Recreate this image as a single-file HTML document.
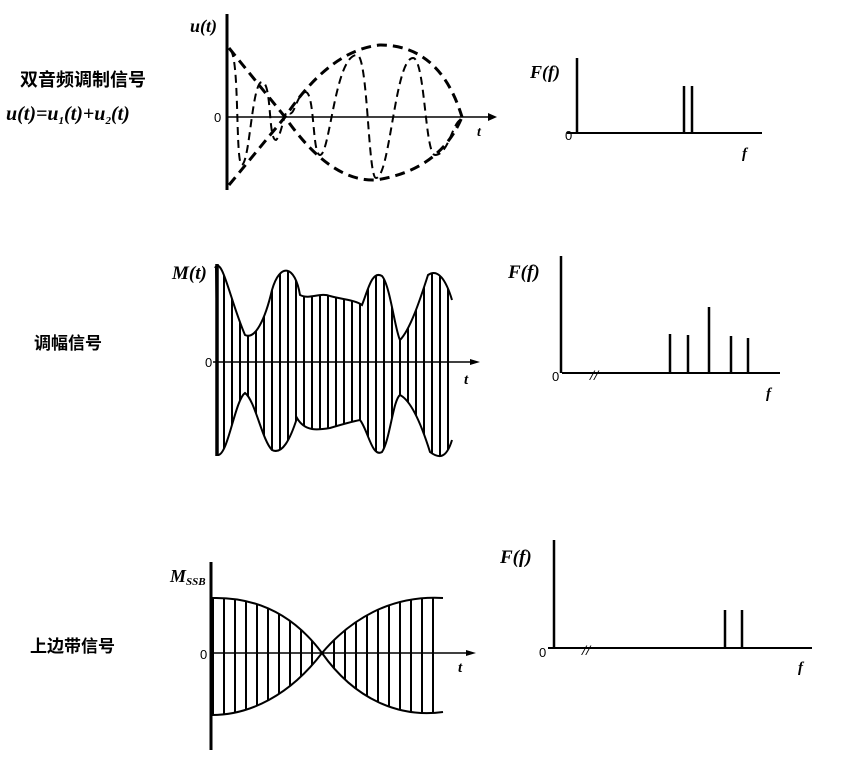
<!DOCTYPE html>
<html><head><meta charset="utf-8"><style>
html,body{margin:0;padding:0;background:#fff;}
svg{display:block;}
.cjk{font-family:"Liberation Sans","Noto Sans CJK SC",sans-serif;font-weight:bold;}
.it{font-family:"Liberation Serif",serif;font-style:italic;font-weight:bold;}
</style></head><body>
<svg width="866" height="766" viewBox="0 0 866 766" xmlns="http://www.w3.org/2000/svg">
<defs>
<pattern id="v2" x="215" y="0" width="8" height="766" patternUnits="userSpaceOnUse">
<rect x="0" y="0" width="2" height="766" fill="#000"/></pattern>
<pattern id="v3" x="212" y="0" width="11" height="766" patternUnits="userSpaceOnUse">
<rect x="0" y="0" width="2" height="766" fill="#000"/></pattern>
<clipPath id="c2"><path d="M215,268 C222,255 230,300 245,335 C255,340 265,320 272,290 C280,262 295,265 300,295 C310,300 320,292 330,296 C345,300 355,300 362,305 C368,290 372,270 382,276 C390,285 395,330 400,340 C410,330 420,300 428,275 C438,268 446,280 452,300 L452,440 C446,460 438,458 430,452 C420,420 410,400 400,395 C393,400 390,440 382,452 C372,458 368,430 360,420 C350,422 340,425 330,428 C318,430 305,432 297,418 C290,440 282,455 272,450 C262,440 255,400 245,393 C235,400 228,455 218,455 Z"/></clipPath>
<clipPath id="c3"><path d="M212,598 C250,597 290,610 322,653 C350,620 390,595 443,598 L443,712 C400,718 355,700 322,653 C290,695 250,715 212,715 Z"/></clipPath>
</defs>

<!-- left labels -->
<text x="20" y="86" class="cjk" font-size="18">双音频调制信号</text>
<text x="6" y="120" class="it" font-size="20">u(t)=u<tspan font-size="11" dy="4">1</tspan><tspan dy="-4">(t)+u</tspan><tspan font-size="11" dy="4">2</tspan><tspan dy="-4">(t)</tspan></text>
<text x="34" y="349" class="cjk" font-size="17">调幅信号</text>
<text x="30" y="652" class="cjk" font-size="17">上边带信号</text>

<!-- Panel 1 -->
<g stroke="#000" fill="none">
<line x1="227" y1="14" x2="227" y2="190" stroke-width="3"/>
<line x1="227" y1="117" x2="488" y2="117" stroke-width="1.5"/>
<g stroke-width="3" stroke-dasharray="10,6">
<path d="M229,48 L285,117 Q330,182 376,180 Q440,170 462,117"/>
<path d="M229,185 L285,117 Q330,50 380,45 Q440,45 462,117"/>
</g>
<g stroke-width="2" stroke-dasharray="8,5">
<path d="M230,50 C240,55 235,165 242,165 C250,160 252,82 262,82 C272,82 268,140 276,140 C282,135 284,110 288,112 C294,120 296,95 305,92 C315,90 312,155 320,155 C330,155 335,55 357,55 C368,55 368,178 376,178 C390,178 395,58 413,58 C425,58 425,155 435,155 C448,155 452,125 460,120"/>
</g>
</g>
<polygon points="488,113 497,117 488,121" fill="#000"/>
<text x="190" y="32" class="it" font-size="18">u(t)</text>
<text x="214" y="122" font-family="Liberation Sans" font-size="13">0</text>
<text x="477" y="136" class="it" font-size="14">t</text>

<!-- Spectrum 1 -->
<g stroke="#000">
<line x1="577" y1="58" x2="577" y2="133" stroke-width="2.5"/>
<line x1="567" y1="133" x2="762" y2="133" stroke-width="2"/>
<line x1="684" y1="86" x2="684" y2="133" stroke-width="2.5"/>
<line x1="692" y1="86" x2="692" y2="133" stroke-width="2.5"/>
</g>
<text x="530" y="78" class="it" font-size="18" font-weight="normal">F(f)</text>
<text x="565" y="140" font-family="Liberation Sans" font-size="13">0</text>
<text x="742" y="158" class="it" font-size="15">f</text>

<!-- Panel 2 -->
<rect x="213" y="250" width="245" height="215" fill="url(#v2)" clip-path="url(#c2)"/>
<path d="M215,268 C222,255 230,300 245,335 C255,340 265,320 272,290 C280,262 295,265 300,295 C310,300 320,292 330,296 C345,300 355,300 362,305 C368,290 372,270 382,276 C390,285 395,330 400,340 C410,330 420,300 428,275 C438,268 446,280 452,300 M452,440 C446,460 438,458 430,452 C420,420 410,400 400,395 C393,400 390,440 382,452 C372,458 368,430 360,420 C350,422 340,425 330,428 C318,430 305,432 297,418 C290,440 282,455 272,450 C262,440 255,400 245,393 C235,400 228,455 218,455" stroke="#000" stroke-width="2" fill="none"/>
<g stroke="#000">
<line x1="217" y1="264" x2="217" y2="456" stroke-width="3.5"/>
<line x1="213" y1="362" x2="472" y2="362" stroke-width="1.5"/>
</g>
<polygon points="470,359 480,362 470,365" fill="#000"/>
<text x="172" y="279" class="it" font-size="19" font-weight="normal">M(t)</text>
<text x="205" y="367" font-family="Liberation Sans" font-size="13">0</text>
<text x="464" y="384" class="it" font-size="15">t</text>

<!-- Spectrum 2 -->
<g stroke="#000">
<line x1="561" y1="256" x2="561" y2="373" stroke-width="2.5"/>
<line x1="562" y1="373" x2="780" y2="373" stroke-width="2"/>
<line x1="670" y1="334" x2="670" y2="373" stroke-width="2.5"/>
<line x1="688" y1="335" x2="688" y2="373" stroke-width="2.5"/>
<line x1="709" y1="307" x2="709" y2="373" stroke-width="2.5"/>
<line x1="731" y1="336" x2="731" y2="373" stroke-width="2.5"/>
<line x1="748" y1="338" x2="748" y2="373" stroke-width="2.5"/>
</g>
<text x="590" y="380" class="it" font-size="15">//</text>
<text x="508" y="278" class="it" font-size="19" font-weight="normal">F(f)</text>
<text x="552" y="381" font-family="Liberation Sans" font-size="13">0</text>
<text x="766" y="398" class="it" font-size="15">f</text>

<!-- Panel 3 -->
<rect x="210" y="590" width="240" height="130" fill="url(#v3)" clip-path="url(#c3)"/>
<path d="M212,598 C250,597 290,610 322,653 C350,620 390,595 443,598 M443,712 C400,718 355,700 322,653 C290,695 250,715 212,715" stroke="#000" stroke-width="2" fill="none"/>
<g stroke="#000">
<line x1="211" y1="562" x2="211" y2="750" stroke-width="3"/>
<line x1="210" y1="653" x2="470" y2="653" stroke-width="1.5"/>
</g>
<polygon points="466,650 476,653 466,656" fill="#000"/>
<text x="170" y="582" class="it" font-size="18" font-weight="normal">M<tspan font-size="11" dy="3">SSB</tspan></text>
<text x="200" y="659" font-family="Liberation Sans" font-size="13">0</text>
<text x="458" y="672" class="it" font-size="15">t</text>

<!-- Spectrum 3 -->
<g stroke="#000">
<line x1="554" y1="540" x2="554" y2="648" stroke-width="2.5"/>
<line x1="548" y1="648" x2="812" y2="648" stroke-width="2"/>
<line x1="725" y1="610" x2="725" y2="648" stroke-width="2.5"/>
<line x1="742" y1="610" x2="742" y2="648" stroke-width="2.5"/>
</g>
<text x="582" y="655" class="it" font-size="15">//</text>
<text x="500" y="563" class="it" font-size="19" font-weight="normal">F(f)</text>
<text x="539" y="657" font-family="Liberation Sans" font-size="13">0</text>
<text x="798" y="672" class="it" font-size="15">f</text>
</svg>
</body></html>
